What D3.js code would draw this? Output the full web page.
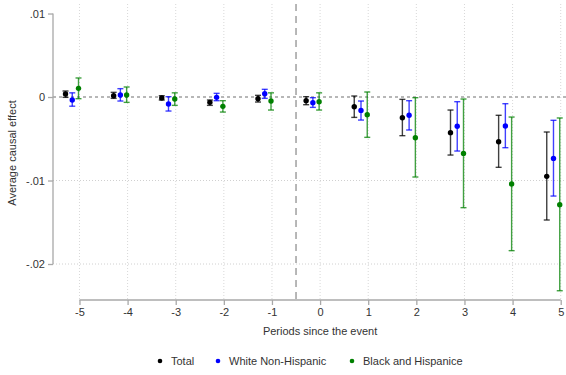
<!DOCTYPE html>
<html>
<head>
<meta charset="utf-8">
<script src="https://cdn.jsdelivr.net/npm/d3@7"></script>
<style>
  body { margin: 0; background: #fff; }
  svg { font-family: Arial, "Liberation Sans", sans-serif; }
</style>
</head>
<body>
<svg id="drawing_region"></svg>
<script>
// data
const periods = [-5, -4, -3, -2, -1, 0, 1, 2, 3, 4, 5];
const seriesNames = ['Total', 'White Non-Hispanic', 'Black and Hispanice'];
const seriesColors = ['#000000', '#0000ff', '#008000'];
const seriesOffsets = [-0.29, -0.15, -0.02];

const totalEst = [0.00036, 0.00016, -0.00012, -0.00064, -0.0002, -0.00044, -0.00116, -0.00248, -0.00427, -0.00535, -0.0095];
const totalLo  = [-0.00004, -0.00016, -0.00036, -0.001, -0.0006, -0.00092, -0.00244, -0.00463, -0.00695, -0.00842, -0.01473];
const totalHi  = [0.00072, 0.00056, 0.00016, -0.00036, 0.0002, 0.00004, 0.00012, -0.00028, -0.00156, -0.00219, -0.00419];

const whiteEst = [-0.00036, 0.00024, -0.00084, -0.00004, 0.0004, -0.00068, -0.0016, -0.00219, -0.00351, -0.00347, -0.00735];
const whiteLo  = [-0.0011, -0.00048, -0.00168, -0.00044, -0.00016, -0.00124, -0.00276, -0.00395, -0.00647, -0.00607, -0.01186];
const whiteHi  = [0.0005, 0.001, 0.00004, 0.00044, 0.00092, -0.00008, -0.00048, -0.00044, -0.00056, -0.0008, -0.00279];

const blackEst = [0.00104, 0.00024, -0.00024, -0.00112, -0.00048, -0.00056, -0.00212, -0.00487, -0.00675, -0.01042, -0.0129];
const blackLo  = [-0.0002, -0.00064, -0.001, -0.0018, -0.00156, -0.00156, -0.00483, -0.00958, -0.01325, -0.0184, -0.0232];
const blackHi  = [0.00228, 0.0012, 0.0005, -0.00044, 0.0005, 0.0005, 0.0006, -0.00008, -0.00024, -0.0024, -0.00251];

const yTicks = [0.01, 0, -0.01, -0.02];
const yTickLabels = ['.01', '0', '-.01', '-.02'];

const width = 566, height = 375;
const margin = {top: 4, right: 0, bottom: 75, left: 53};

const svg = d3.select('#drawing_region')
    .attr('width', width)
    .attr('height', height);

const innerW = width - margin.left - margin.right;
const innerH = height - margin.top - margin.bottom;

const chart = svg.append('g')
    .attr('transform', `translate(${margin.left},${margin.top})`);

const xscale = d3.scaleLinear().domain([-5.55, 5.11]).range([0, innerW]);
const yscale = d3.scaleLinear().domain([0.01114, -0.02431]).range([0, innerH]);

// grid
chart.append('g').selectAll('line')
    .data(periods)
    .join('line')
    .attr('x1', d => xscale(d)).attr('x2', d => xscale(d))
    .attr('y1', 0).attr('y2', innerH)
    .attr('stroke', '#d8d8d8')
    .attr('stroke-dasharray', '1,2');

chart.append('g').selectAll('line')
    .data([-0.01, -0.02])
    .join('line')
    .attr('x1', 0).attr('x2', innerW)
    .attr('y1', d => yscale(d)).attr('y2', d => yscale(d))
    .attr('stroke', '#d0d0d0')
    .attr('stroke-dasharray', '1,2');

// reference lines
chart.append('line')
    .attr('x1', 0).attr('x2', innerW)
    .attr('y1', yscale(0)).attr('y2', yscale(0))
    .attr('stroke', '#a0a0a0')
    .attr('stroke-width', 1.3)
    .attr('stroke-dasharray', '3,3');

chart.append('line')
    .attr('x1', xscale(-0.5)).attr('x2', xscale(-0.5))
    .attr('y1', 0).attr('y2', innerH)
    .attr('stroke', '#a0a0a0')
    .attr('stroke-width', 1.5)
    .attr('stroke-dasharray', '7,5');

// axes
const yaxis = d3.axisLeft(yscale)
    .tickValues(yTicks)
    .tickFormat((d, i) => yTickLabels[i])
    .tickSize(5)
    .tickSizeOuter(0);

const yaxis_group = chart.append('g').call(yaxis);

const xaxis = d3.axisBottom(xscale)
    .tickValues(periods)
    .tickFormat(d => String(d))
    .tickSize(5)
    .tickSizeOuter(0);

const xaxis_group = chart.append('g')
    .attr('transform', `translate(0,${innerH})`)
    .call(xaxis);

[yaxis_group, xaxis_group].forEach(g => {
    g.select('.domain').remove();
    g.selectAll('.tick line').attr('stroke', '#a8a8a8').attr('stroke-width', 1.3);
    g.selectAll('.tick text').attr('fill', '#333').style('font-size', '11px').style('font-family', 'Arial, "Liberation Sans", sans-serif');
});
yaxis_group.selectAll('.tick text').attr('x', -8);

yaxis_group.append('line')
    .attr('x1', 0).attr('x2', 0)
    .attr('y1', yscale(0.01)).attr('y2', yscale(-0.02))
    .attr('stroke', '#a8a8a8').attr('stroke-width', 1.3);

xaxis_group.append('line')
    .attr('x1', xscale(-5)).attr('x2', xscale(5))
    .attr('y1', 0).attr('y2', 0)
    .attr('stroke', '#a8a8a8').attr('stroke-width', 1.3);

// titles
svg.append('text')
    .attr('x', xscale(0) + margin.left)
    .attr('y', 335)
    .attr('text-anchor', 'middle')
    .attr('fill', '#333')
    .style('font-size', '11px')
    .text('Periods since the event');

svg.append('text')
    .attr('transform', 'rotate(-90)')
    .attr('x', -153)
    .attr('y', 16)
    .attr('text-anchor', 'middle')
    .attr('fill', '#333')
    .style('font-size', '11px')
    .text('Average causal effect');

// series
const series = [
    {est: totalEst, lo: totalLo, hi: totalHi},
    {est: whiteEst, lo: whiteLo, hi: whiteHi},
    {est: blackEst, lo: blackLo, hi: blackHi}
].map((s, k) => periods.map((p, i) => ({
    x: p + seriesOffsets[k], est: s.est[i], lo: s.lo[i], hi: s.hi[i], k: k
})));

const cap = 3;
series.forEach((rows, k) => {
    const g = chart.append('g')
        .attr('stroke', seriesColors[k])
        .attr('stroke-width', 1.4)
        .attr('stroke-opacity', 0.75);
    g.selectAll('.bar').data(rows).join('line')
        .attr('x1', d => xscale(d.x)).attr('x2', d => xscale(d.x))
        .attr('y1', d => yscale(d.hi)).attr('y2', d => yscale(d.lo));
    g.selectAll('.hicap').data(rows).join('line')
        .attr('class', 'hicap')
        .attr('x1', d => xscale(d.x) - cap).attr('x2', d => xscale(d.x) + cap)
        .attr('y1', d => yscale(d.hi)).attr('y2', d => yscale(d.hi));
    g.selectAll('.locap').data(rows).join('line')
        .attr('class', 'locap')
        .attr('x1', d => xscale(d.x) - cap).attr('x2', d => xscale(d.x) + cap)
        .attr('y1', d => yscale(d.lo)).attr('y2', d => yscale(d.lo));
});

series.forEach((rows, k) => {
    chart.append('g').selectAll('circle').data(rows).join('circle')
        .attr('cx', d => xscale(d.x))
        .attr('cy', d => yscale(d.est))
        .attr('r', 2.7)
        .attr('fill', seriesColors[k]);
});

// legend
const legendX = [160, 218, 352];
const legend = svg.append('g');
seriesNames.forEach((name, k) => {
    legend.append('circle')
        .attr('cx', legendX[k]).attr('cy', 361)
        .attr('r', 2.3)
        .attr('fill', seriesColors[k]);
    legend.append('text')
        .attr('x', legendX[k] + 11).attr('y', 365)
        .attr('fill', '#333')
        .style('font-size', '11px')
        .text(name);
});
</script>
</body>
</html>
